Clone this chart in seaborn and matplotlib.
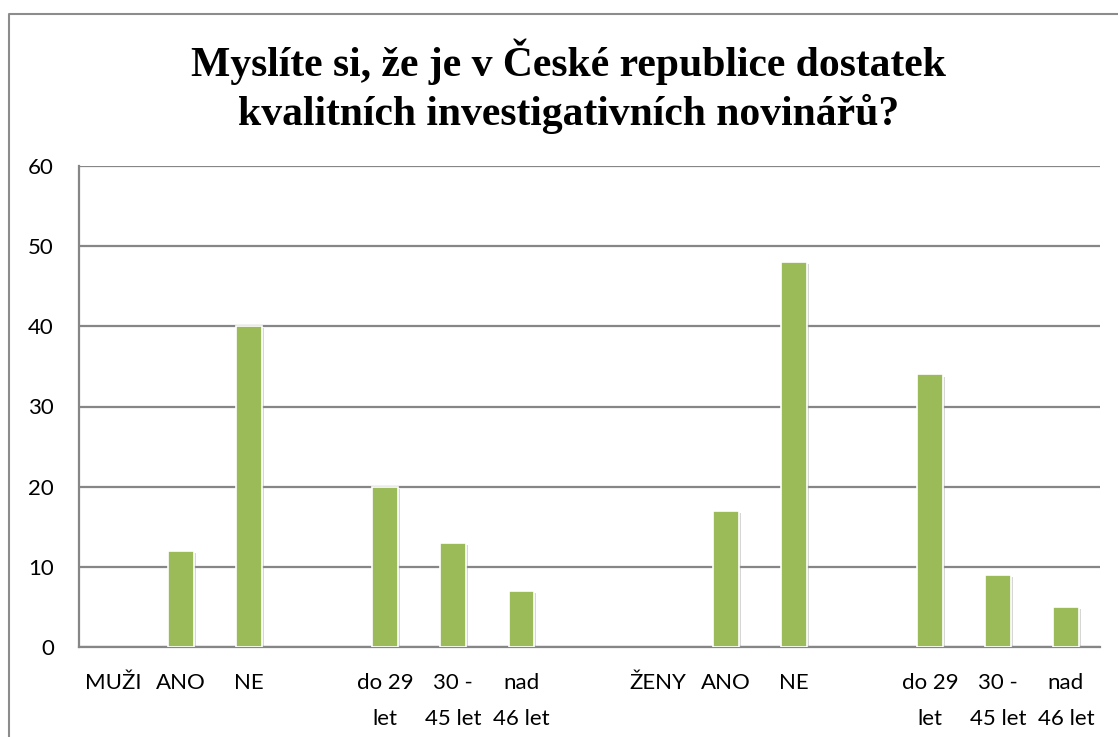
import matplotlib
matplotlib.use("Agg")
import matplotlib.pyplot as plt
import matplotlib.patheffects as pe
from matplotlib.lines import Line2D
import seaborn as sns
import pandas as pd

labels = ["MUŽI", "ANO", "NE", "", "do 29\nlet", "30 -\n45 let", "nad\n46 let", "",
          "ŽENY", "ANO", "NE", "", "do 29\nlet", "30 -\n45 let", "nad\n46 let"]
values = [0, 12, 40, 0, 20, 13, 7, 0, 0, 17, 48, 0, 34, 9, 5]
yticks = [0, 10, 20, 30, 40, 50, 60]

df = pd.DataFrame({"pos": list(range(len(labels))), "value": values})

sns.set_style("white")
plt.rcParams['font.family'] = ['Lato', 'DejaVu Sans']

fig = plt.figure(figsize=(11.18, 7.37), dpi=100)
ax = fig.add_axes([79 / 1118, 1 - 647 / 737, (1100 - 79) / 1118, (647 - 166) / 737])

sns.barplot(data=df, x="pos", y="value", color="#9BBB59", saturation=1,
            width=0.38, edgecolor="white", linewidth=1.2, ax=ax, zorder=3)

for bar in ax.patches:
    if bar.get_height() == 0:
        bar.set_visible(False)
        continue
    bar.set_path_effects([pe.SimplePatchShadow(offset=(1.5, -1.5), shadow_rgbFace="#999999", alpha=0.4),
                          pe.Normal()])

ax.set_ylim(0, 60)
ax.set_yticks(yticks)
ax.set_xlim(-0.5, len(labels) - 0.5)
ax.set_xticks(range(len(labels)))
ax.set_xticklabels(labels, fontsize=16, linespacing=2.0)
ax.tick_params(axis="y", labelsize=16, length=0, pad=18, labelcolor="black")
ax.tick_params(axis="x", length=0, pad=19, labelcolor="black")
ax.set_xlabel("")
ax.set_ylabel("")

ax.grid(axis="y", color="#868686", linewidth=1.6, zorder=0)
ax.set_axisbelow(True)
for side in ["top", "right"]:
    ax.spines[side].set_visible(False)
for side in ["left", "bottom"]:
    ax.spines[side].set_color("#868686")
    ax.spines[side].set_linewidth(1.6)

fig.text(569 / 1118, 1 - 86 / 737, "Myslíte si, že je v České republice dostatek\nkvalitních investigativních novinářů?",
         ha="center", va="center", fontsize=30, fontweight="bold", color="black",
         family="Liberation Serif", linespacing=1.3)

# outer chart border
fig.add_artist(Line2D([9 / 1118, 9 / 1118, 1.0], [0, 1 - 14 / 737, 1 - 14 / 737],
                      transform=fig.transFigure, color="#8C8C8C", linewidth=1.5))

fig.savefig("out.png", dpi=100)
